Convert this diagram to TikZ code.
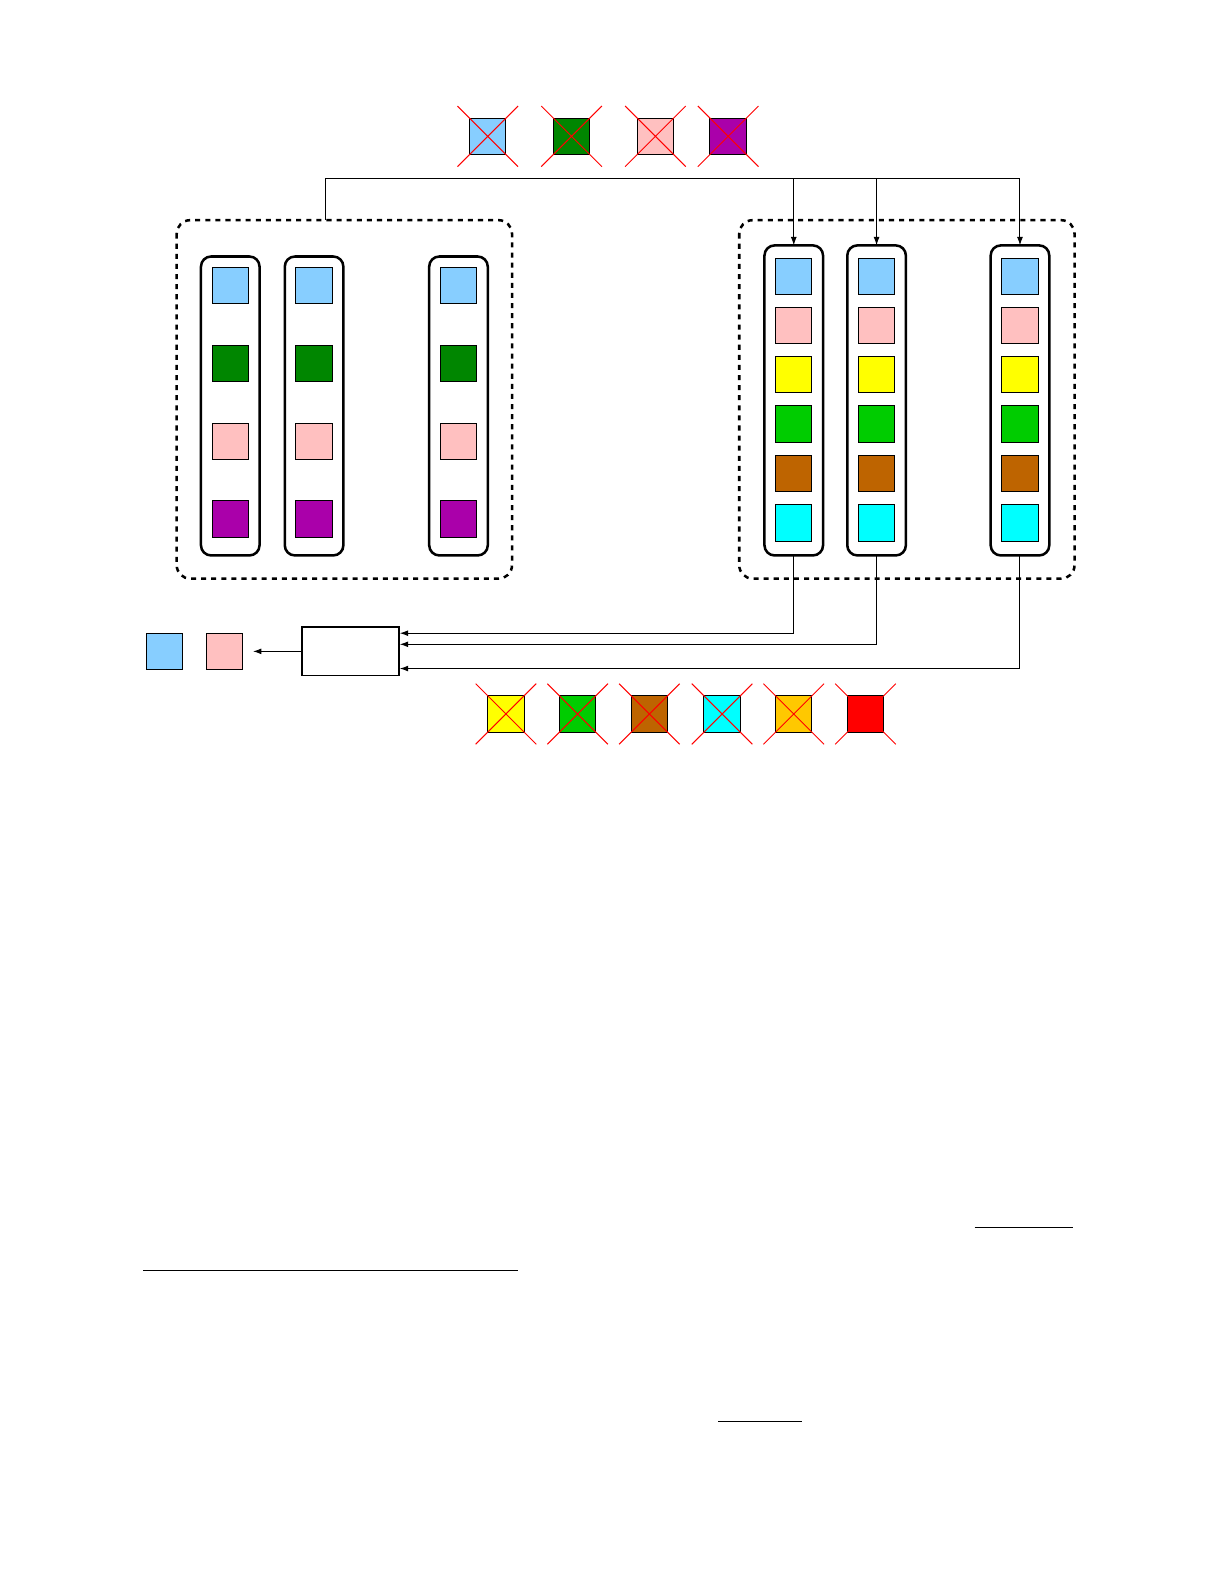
\documentclass[tikz,border=0pt]{standalone}
\usetikzlibrary{arrows.meta}
\definecolor{lb}{RGB}{135,206,255}
\definecolor{dg}{RGB}{0,134,0}
\definecolor{pk}{RGB}{255,192,192}
\definecolor{pu}{RGB}{170,0,170}
\definecolor{ye}{RGB}{255,255,0}
\definecolor{gr}{RGB}{0,204,0}
\definecolor{br}{RGB}{190,100,0}
\definecolor{cy}{RGB}{0,255,255}
\definecolor{og}{RGB}{255,200,0}
\definecolor{rd}{RGB}{255,0,0}
\begin{document}
\begin{tikzpicture}[x=0.6pt,y=-0.6pt,
  sq/.style={draw,line width=0.6pt,minimum size=21.6pt,inner sep=0pt},
  col/.style={draw,line width=1.5pt,rounded corners=6pt},
  grp/.style={draw,line width=1.5pt,dash pattern=on 3pt off 3pt,rounded corners=8pt},
  cr/.style={draw=red,line width=0.6pt},
  wire/.style={line width=0.6pt},
  arr/.style={line width=0.6pt,-{Latex[length=5pt,width=3.5pt]}}]
\useasboundingbox (0,0) rectangle (1213,1569.5);
% top crossed squares
\foreach \n/\x/\c in {t1/483/lb,t2/566/dg,t3/649/pk,t4/721/pu}{
  \node[sq,fill=\c] (\n) at (\x,135) {};
  \draw[cr] ([shift={(-30,-30)}]\n.center) -- ([shift={(30,30)}]\n.center)
            ([shift={(-30,30)}]\n.center) -- ([shift={(30,-30)}]\n.center);}
% bottom crossed squares
\foreach \n/\x/\c in {b1/501/ye,b2/572/gr,b3/643/br,b4/715/cy,b5/786/og,b6/857/rd}{
  \node[sq,fill=\c] (\n) at (\x,707) {};
  \draw[cr] ([shift={(-30,-30)}]\n.center) -- ([shift={(30,30)}]\n.center)
            ([shift={(-30,30)}]\n.center) -- ([shift={(30,-30)}]\n.center);}
% groups
\draw[grp] (175,218) rectangle (507,573);
\draw[grp] (732,218) rectangle (1064,573);
\coordinate (lg) at (322,218);
% left columns
\foreach \i/\x in {1/228,2/311,3/454}{
  \draw[col] (\x-29,254) rectangle (\x+29,550);
  \foreach \y/\c in {283/lb,360/dg,437/pk,514/pu}{
    \node[sq,fill=\c] at (\x,\y) {};}}
% right columns
\foreach \i/\x in {1/786,2/868,3/1010}{
  \draw[col] (\x-29,243) rectangle (\x+29,550);
  \coordinate (rt\i) at (\x,243);
  \coordinate (rb\i) at (\x,550);
  \foreach \y/\c in {274/lb,322/pk,371/ye,420/gr,469/br,518/cy}{
    \node[sq,fill=\c] at (\x,\y) {};}}
% top wiring
\draw[wire] (lg) -- (322,177) -- (1010,177);
\draw[arr] (786,177) -- (rt1);
\draw[arr] (868,177) -- (rt2);
\draw[arr] (1010,177) -- (rt3);
% bottom box
\node[draw,line width=1pt,minimum width=57.6pt,minimum height=28.8pt,inner sep=0pt] (bx) at (347,645) {};
\draw[arr] (rb1) |- (bx.east |- 0,627);
\draw[arr] (rb2) |- (bx.east |- 0,638);
\draw[arr] (rb3) |- (bx.east |- 0,662);
\node[sq,fill=lb] (o1) at (163,645) {};
\node[sq,fill=pk] (o2) at (222,645) {};
\draw[arr] (bx.west) -- ([xshift=6pt]o2.east);
% stray lines
\draw[wire] (965,1215) -- (1062,1215);
\draw[wire] (142,1258) -- (513,1258);
\draw[wire] (711,1408) -- (794,1408);
\end{tikzpicture}
\end{document}
